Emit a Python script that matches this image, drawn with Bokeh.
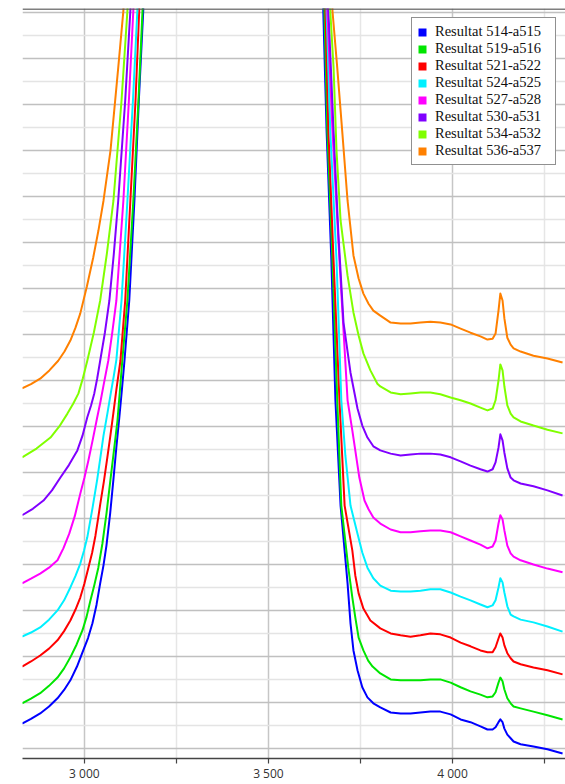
import numpy as np
from bokeh.plotting import figure
from bokeh.models import Range1d, FixedTicker, Span, Legend, LegendItem
from bokeh.embed import file_html
from bokeh.resources import INLINE

# ---------------- data ----------------
series_names = ["Resultat 514-a515", "Resultat 519-a516", "Resultat 521-a522", "Resultat 524-a525",
                "Resultat 527-a528", "Resultat 530-a531", "Resultat 534-a532", "Resultat 536-a537"]
series_colors = ["#0000ff", "#00e600", "#ff0000", "#00f0ff", "#ff00ff", "#8000ff", "#80ff00", "#ff8000"]

x_tick_values = [3000, 3250, 3500, 3750, 4000, 4250]
x_tick_labels = ["3 000", "", "3 500", "", "4 000", ""]
x_grid_major = [3000, 3500, 4000]
x_grid_minor = [3250, 3750, 4250]
y_grid_major = list(range(0, 17))
y_grid_minor = [k + 0.5 for k in range(-1, 16)]

# common wavenumbers of the right-hand tail
tail_x = [3804, 3832, 3859, 3886, 3913, 3940, 3967, 3995, 4022, 4049, 4076, 4095, 4109,
          4117, 4125, 4130, 4136, 4141, 4149, 4158, 4166, 4185, 4220, 4258, 4299]

# steep walls of the band (left wing up, then right wing down)
blue_wall_x = [2831, 2855, 2880, 2904, 2927, 2945, 2962, 2980, 2997, 3010, 3022, 3033, 3043, 3052, 3060, 3070,
               3079, 3087, 3095, 3102, 3109, 3122, 3136, 3148, 3160, 3162,
               3647, 3649, 3658, 3671, 3682, 3696, 3715, 3723, 3731, 3742, 3755, 3769, 3785]
blue_wall_y = [0.54, 0.64, 0.76, 0.91, 1.09, 1.27, 1.48, 1.78, 2.13, 2.40, 2.72, 3.12, 3.59, 3.98, 4.41, 5.10,
               5.85, 6.55, 7.20, 7.80, 8.43, 9.74, 11.91, 14.09, 16.04, 17.1,
               17.1, 16.04, 13.43, 10.61, 7.57, 5.28, 3.59, 2.72, 2.13, 1.70, 1.33, 1.11, 0.98]
blue_tail_y = [0.89, 0.78, 0.76, 0.76, 0.78, 0.80, 0.80, 0.74, 0.63, 0.57, 0.48, 0.41, 0.41,
               0.46, 0.57, 0.63, 0.57, 0.43, 0.30, 0.22, 0.15, 0.09, 0.04, -0.02, -0.11]

green_wall_x = [2831, 2855, 2880, 2904, 2927, 2945, 2962, 2979, 2995, 3006, 3016, 3027, 3038, 3049, 3060, 3071,
                3081, 3090, 3096, 3103, 3117, 3133, 3147, 3158, 3160,
                3649, 3652, 3660, 3674, 3687, 3698, 3717, 3728, 3736, 3745, 3758, 3771, 3783]
green_wall_y = [0.98, 1.08, 1.20, 1.36, 1.54, 1.74, 1.98, 2.26, 2.57, 2.86, 3.20, 3.55, 3.93, 4.45, 5.10, 5.85,
                6.52, 7.13, 7.72, 8.43, 9.74, 11.91, 14.09, 16.04, 17.1,
                17.1, 16.04, 13.43, 10.61, 7.57, 5.28, 3.93, 3.28, 2.85, 2.41, 2.13, 1.91, 1.78]
green_tail_y = [1.63, 1.50, 1.48, 1.48, 1.48, 1.50, 1.50, 1.43, 1.33, 1.24, 1.17, 1.11, 1.13,
                1.22, 1.43, 1.54, 1.46, 1.28, 1.09, 0.98, 0.91, 0.87, 0.80, 0.72, 0.63]

red_wall_x = [2831, 2855, 2880, 2904, 2927, 2945, 2962, 2976, 2989, 3000, 3011, 3021, 3030, 3037, 3043, 3053,
              3062, 3071, 3079, 3087, 3098, 3111, 3125, 3139, 3149, 3152,
              3652, 3655, 3663, 3677, 3693, 3707, 3728, 3736, 3745, 3758, 3777]
red_wall_y = [1.78, 1.89, 2.02, 2.17, 2.35, 2.55, 2.78, 3.02, 3.28, 3.58, 3.93, 4.25, 4.62, 4.98, 5.30, 5.80,
              6.30, 6.82, 7.30, 7.80, 8.43, 9.74, 11.91, 14.09, 16.04, 17.1,
              17.1, 16.04, 13.43, 10.61, 7.57, 5.28, 4.30, 3.76, 3.37, 3.04, 2.78]
red_tail_y = [2.61, 2.50, 2.46, 2.43, 2.46, 2.50, 2.48, 2.41, 2.30, 2.22, 2.13, 2.09, 2.09,
              2.20, 2.39, 2.50, 2.41, 2.24, 2.07, 1.96, 1.89, 1.83, 1.76, 1.70, 1.61]

cyan_wall_x = [2831, 2855, 2880, 2904, 2927, 2945, 2962, 2976, 2989, 2999, 3008, 3022, 3035, 3044, 3052, 3063,
               3073, 3080, 3087, 3101, 3117, 3132, 3144, 3147,
               3655, 3658, 3668, 3685, 3698, 3709, 3723, 3742, 3755, 3769, 3785]
cyan_wall_y = [2.43, 2.52, 2.63, 2.80, 3.00, 3.22, 3.50, 3.75, 4.02, 4.30, 4.59, 5.22, 5.85, 6.35, 6.80, 7.30,
               7.78, 8.10, 8.45, 9.74, 11.91, 14.09, 16.04, 17.1,
               17.1, 16.04, 13.43, 10.61, 7.57, 6.37, 5.28, 4.67, 4.26, 3.93, 3.70]
cyan_tail_y = [3.54, 3.43, 3.41, 3.41, 3.43, 3.46, 3.46, 3.39, 3.30, 3.22, 3.13, 3.07, 3.11,
               3.22, 3.50, 3.70, 3.61, 3.39, 3.09, 2.91, 2.87, 2.80, 2.74, 2.65, 2.54]

magenta_wall_x = [2831, 2855, 2880, 2904, 2927, 2943, 2959, 2974, 2989, 3000, 3011, 3023, 3035, 3044, 3052, 3065,
                  3076, 3087, 3106, 3121, 3133, 3136,
                  3658, 3660, 3674, 3693, 3704, 3715, 3728, 3747, 3761, 3772, 3785]
magenta_wall_y = [3.59, 3.69, 3.80, 3.93, 4.09, 4.35, 4.67, 5.05, 5.54, 5.88, 6.26, 6.72, 7.20, 7.55, 7.89, 8.43,
                  9.05, 9.74, 11.91, 14.09, 16.04, 17.1,
                  17.1, 16.04, 13.43, 10.61, 9.09, 7.57, 6.91, 5.89, 5.39, 5.20, 5.02]
magenta_tail_y = [4.89, 4.76, 4.70, 4.70, 4.72, 4.74, 4.74, 4.70, 4.61, 4.52, 4.43, 4.35, 4.39,
                  4.52, 4.89, 5.07, 4.98, 4.74, 4.41, 4.24, 4.17, 4.09, 4.00, 3.91, 3.83]

violet_wall_x = [2831, 2860, 2889, 2912, 2935, 2958, 2981, 2995, 3008, 3018, 3027, 3035, 3043, 3056, 3068, 3080,
                 3092, 3111, 3125, 3128,
                 3660, 3663, 3677, 3690, 3704, 3723, 3742, 3755, 3769, 3785]
violet_wall_y = [5.07, 5.21, 5.39, 5.61, 5.89, 6.16, 6.48, 6.80, 7.20, 7.45, 7.72, 8.05, 8.43, 9.05, 9.74, 10.75,
                 11.91, 14.09, 16.04, 17.1,
                 17.1, 16.04, 13.43, 11.20, 9.26, 8.17, 7.39, 7.02, 6.76, 6.57]
violet_tail_y = [6.48, 6.41, 6.37, 6.39, 6.41, 6.41, 6.39, 6.33, 6.24, 6.15, 6.07, 6.02, 6.07,
                 6.22, 6.54, 6.83, 6.70, 6.43, 6.09, 5.89, 5.83, 5.76, 5.70, 5.61, 5.50]

chartreuse_wall_x = [2831, 2870, 2908, 2932, 2954, 2970, 2984, 2996, 3008, 3026, 3043, 3061, 3079, 3101, 3117, 3122,
                     3666, 3668, 3677, 3685, 3696, 3715, 3731, 3745, 3758, 3777, 3796]
chartreuse_wall_y = [6.33, 6.52, 6.76, 7.00, 7.28, 7.50, 7.72, 8.05, 8.43, 9.05, 9.74, 10.75, 11.91, 14.09, 16.04, 17.1,
                     17.1, 16.04, 14.80, 13.00, 11.48, 10.28, 9.48, 8.98, 8.59, 8.22, 7.93]
chartreuse_tail_y = [7.87, 7.74, 7.70, 7.72, 7.74, 7.74, 7.70, 7.63, 7.57, 7.50, 7.41, 7.35, 7.39,
                     7.57, 8.00, 8.35, 8.22, 7.87, 7.46, 7.28, 7.20, 7.11, 7.02, 6.93, 6.85]

orange_wall_x = [2831, 2855, 2880, 2905, 2929, 2946, 2962, 2976, 2989, 3007, 3024, 3038, 3052, 3071, 3092, 3106, 3111,
                 3671, 3674, 3687, 3701, 3715, 3731, 3745, 3758, 3772, 3785]
orange_wall_y = [7.83, 7.92, 8.04, 8.22, 8.43, 8.63, 8.87, 9.15, 9.46, 10.05, 10.67, 11.25, 11.91, 13.00, 14.80, 16.04, 17.1,
                 17.1, 16.04, 14.80, 13.37, 11.91, 10.72, 10.22, 9.89, 9.67, 9.52]
orange_tail_y = [9.41, 9.26, 9.24, 9.24, 9.26, 9.28, 9.26, 9.22, 9.13, 9.04, 8.96, 8.89, 8.91,
                 9.02, 9.52, 9.89, 9.74, 9.35, 8.93, 8.78, 8.70, 8.63, 8.54, 8.48, 8.39]

walls_x = [blue_wall_x, green_wall_x, red_wall_x, cyan_wall_x, magenta_wall_x, violet_wall_x, chartreuse_wall_x, orange_wall_x]
walls_y = [blue_wall_y, green_wall_y, red_wall_y, cyan_wall_y, magenta_wall_y, violet_wall_y, chartreuse_wall_y, orange_wall_y]
tails_y = [blue_tail_y, green_tail_y, red_tail_y, cyan_tail_y, magenta_tail_y, violet_tail_y, chartreuse_tail_y, orange_tail_y]

# ---------------- figure ----------------
Y_TOP = 16.09
p = figure(width=565, height=784, output_backend="svg", toolbar_location=None,
           x_range=Range1d(2832, 4307), y_range=Range1d(-0.22, Y_TOP),
           y_axis_location=None,
           min_border_left=22, min_border_right=0, min_border_top=8, min_border_bottom=0)
p.outline_line_color = None
p.background_fill_color = "white"
p.border_fill_color = "white"

# grids
p.xgrid.ticker = FixedTicker(ticks=x_grid_major, minor_ticks=x_grid_minor)
p.xgrid.grid_line_color = "#c6c6c6"
p.xgrid.grid_line_width = 1.5
p.xgrid.minor_grid_line_color = "#e6e6e6"
p.xgrid.minor_grid_line_width = 1.5
p.ygrid.ticker = FixedTicker(ticks=y_grid_major, minor_ticks=y_grid_minor)
p.ygrid.grid_line_color = "#c0c0c0"
p.ygrid.grid_line_width = 1.5
p.ygrid.minor_grid_line_color = "#e4e4e4"
p.ygrid.minor_grid_line_width = 1.5

# x axis
ax = p.xaxis[0]
ax.ticker = FixedTicker(ticks=x_tick_values)
ax.major_label_overrides = {v: s for v, s in zip(x_tick_values, x_tick_labels)}
ax.axis_line_color = "#444444"
ax.axis_line_width = 1.5
ax.major_tick_line_color = "#444444"
ax.major_tick_line_width = 1.2
ax.major_tick_in = 0
ax.major_tick_out = 5
ax.minor_tick_line_color = None
ax.major_label_standoff = 1
ax.major_label_text_font = "Open Sans"
ax.major_label_text_font_size = "12px"
ax.major_label_text_color = "#333333"

# top border line
p.add_layout(Span(location=Y_TOP - 0.01, dimension="width", line_color="#555555", line_width=1.5))

# curves
for wx, wy, ty, c in zip(walls_x, walls_y, tails_y, series_colors):
    xs = list(wx) + list(tail_x)
    ys = list(wy) + list(ty)
    p.line(xs, ys, line_color=c, line_width=2, line_join="round")

# legend (square swatches)
items = []
for name, c in zip(series_names, series_colors):
    r = p.quad(left=[np.nan], right=[np.nan], top=[np.nan], bottom=[np.nan],
               fill_color=c, line_color=None)
    items.append(LegendItem(label=name, renderers=[r]))

legend = Legend(items=items, location="top_right", margin=9, padding=5, spacing=0,
                glyph_width=10, glyph_height=10, label_standoff=8, label_height=16, label_width=115,
                label_text_font="Liberation Serif", label_text_font_size="14.5px",
                label_text_color="#111111",
                border_line_color="#222222", border_line_width=1,
                background_fill_color="white", background_fill_alpha=1.0)
p.add_layout(legend)

open("out.html", "w").write(file_html(p, INLINE))
